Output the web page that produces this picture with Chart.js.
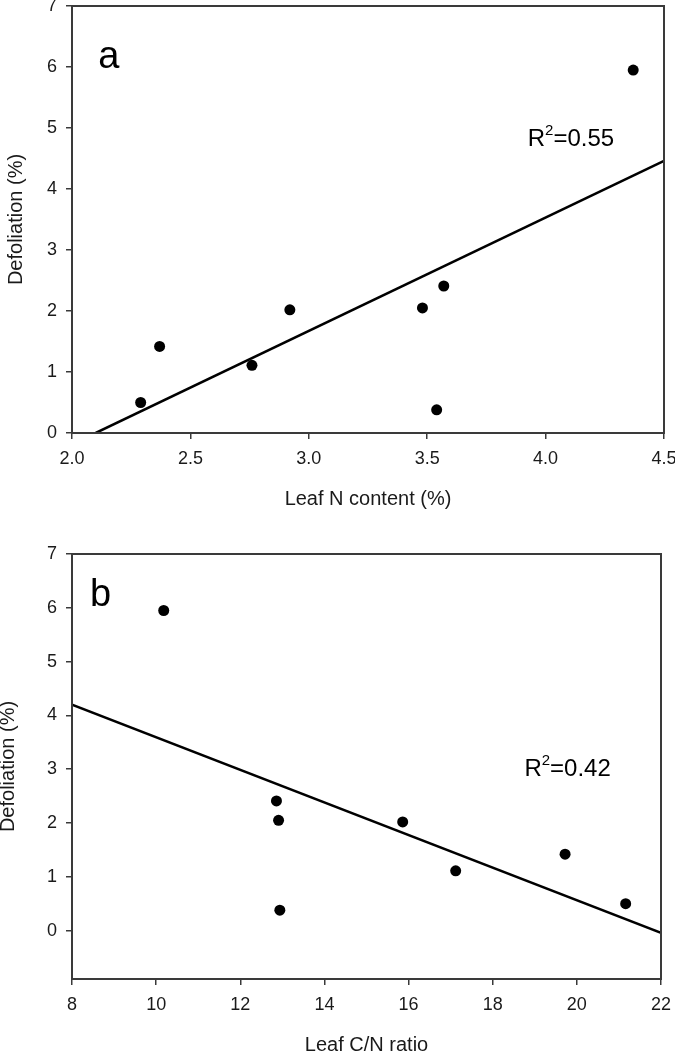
<!DOCTYPE html>
<html>
<head>
<meta charset="utf-8">
<script src="https://cdn.jsdelivr.net/npm/chart.js@4.4.1/dist/chart.umd.min.js"></script>
<style>
    html, body { margin: 0; padding: 0; background: #fff; overflow: hidden; width: 675px; height: 1054px; }
    .panel { position: absolute; left: 0; }
    #pa { top: -20px; }
    #pb { top: 527px; }
</style>
</head>
<body>
<div class="panel" id="pa"><canvas id="chartA" width="700" height="547"></canvas></div>
<div class="panel" id="pb"><canvas id="chartB" width="700" height="527"></canvas></div>
<script>
// values
const leafN = [2.29, 2.37, 2.76, 2.92, 3.48, 3.57, 3.54, 4.37];
const leafCN = [21.16, 19.72, 17.12, 15.86, 12.91, 12.86, 12.94, 10.18];
const defoliation = [0.50, 1.42, 1.11, 2.02, 2.05, 2.41, 0.38, 5.95];

const fitAx = [2.1, 4.5];
const fitAy = [0, 4.46];
const fitBx = [8, 22];
const fitBy = [4.2, -0.04];

const yTicks = [0, 1, 2, 3, 4, 5, 6, 7];
const xTicksA = [2.0, 2.5, 3.0, 3.5, 4.0, 4.5];
const xTicksB = [8, 10, 12, 14, 16, 18, 20, 22];

Chart.defaults.font.family = '"Liberation Sans", Arial, sans-serif';
Chart.defaults.color = '#1a1a1a';

const FONT = '"Liberation Sans", Arial, sans-serif';
const axisColor = '#3a3a3a';

const framePlugin = {
    id: 'frame',
    afterDraw(chart, args, opts) {
        const { ctx, chartArea: a, scales: { x, y } } = chart;
        ctx.save();
        ctx.strokeStyle = axisColor;
        ctx.lineWidth = 2;
        ctx.strokeRect(a.left, a.top, a.right - a.left, a.bottom - a.top);

        ctx.fillStyle = '#000';
        ctx.textBaseline = 'middle';
        ctx.textAlign = 'center';
        ctx.font = '38px ' + FONT;
        ctx.fillText(opts.letter, x.getPixelForValue(opts.letterAt[0]), y.getPixelForValue(opts.letterAt[1]));

        // R² label with a raised 2
        const big = '24px ' + FONT, small = '15px ' + FONT;
        ctx.textAlign = 'left';
        ctx.font = big;
        const wR = ctx.measureText('R').width;
        const wRest = ctx.measureText(opts.r2).width;
        ctx.font = small;
        const w2 = ctx.measureText('2').width;
        const total = wR + w2 + wRest;
        let px = x.getPixelForValue(opts.r2At[0]) - total / 2;
        const py = y.getPixelForValue(opts.r2At[1]);
        ctx.font = big;
        ctx.fillText('R', px, py);
        px += wR;
        ctx.font = small;
        ctx.fillText('2', px, py - 9);
        px += w2;
        ctx.font = big;
        ctx.fillText(opts.r2, px, py);
        ctx.restore();
    }
};

function makeChart(id, cfg) {
    const ctx = document.getElementById(id);
    const points = cfg.xs.map((v, i) => ({ x: v, y: defoliation[i] }));
    const fit = cfg.fitX.map((v, i) => ({ x: v, y: cfg.fitY[i] }));
    return new Chart(ctx, {
        type: 'scatter',
        data: {
            datasets: [
                {
                    data: points,
                    backgroundColor: '#000', borderColor: '#000',
                    pointRadius: 5.5, pointHoverRadius: 5.5, borderWidth: 0
                },
                {
                    type: 'line', data: fit, showLine: true,
                    borderColor: '#000', borderWidth: 2.5, pointRadius: 0, fill: false
                }
            ]
        },
        options: {
            responsive: false,
            animation: false,
            layout: { padding: cfg.pad },
            plugins: {
                legend: { display: false },
                tooltip: { enabled: false },
                frame: { letter: cfg.letter, letterAt: cfg.letterAt, r2: cfg.r2, r2At: cfg.r2At }
            },
            scales: {
                x: {
                    type: 'linear', min: cfg.xMin, max: cfg.xMax,
                    afterBuildTicks: s => { s.ticks = cfg.xTicks.map(v => ({ value: v })); },
                    afterFit: s => { s.height = cfg.xAxisH; },
                    border: { display: false },
                    grid: { drawOnChartArea: false, drawTicks: true, tickLength: 6, color: axisColor, lineWidth: 1.5 },
                    ticks: {
                        autoSkip: false, maxRotation: 0, padding: 9,
                        font: { size: 18 },
                        callback: v => cfg.xFmt(v)
                    },
                    title: {
                        display: true, text: cfg.xTitle,
                        font: { size: 20 }, padding: { top: 0, bottom: cfg.xTitlePad }
                    }
                },
                y: {
                    type: 'linear', min: cfg.yMin, max: 7,
                    afterBuildTicks: s => { s.ticks = yTicks.map(v => ({ value: v })); },
                    afterFit: s => { s.width = 72; },
                    border: { display: false },
                    grid: { drawOnChartArea: false, drawTicks: true, tickLength: 6, color: axisColor, lineWidth: 1.5 },
                    ticks: { padding: 9, font: { size: 18 } },
                    title: {
                        display: true, text: 'Defoliation (%)',
                        font: { size: 20 }, padding: { top: cfg.yTitlePad, bottom: 0 }
                    }
                }
            }
        },
        plugins: [framePlugin]
    });
}

makeChart('chartA', {
    xs: leafN, fitX: fitAx, fitY: fitAy,
    xMin: 2.0, xMax: 4.5, yMin: 0, xTicks: xTicksA, xFmt: v => v.toFixed(1),
    xTitle: 'Leaf N content (%)', xTitlePad: 16, yTitlePad: 4,
    pad: { top: 26, right: 36, left: 0, bottom: 0 }, xAxisH: 94,
    letter: 'a', letterAt: [2.156, 6.16], r2: '=0.55', r2At: [4.107, 4.81]
});

makeChart('chartB', {
    xs: leafCN, fitX: fitBx, fitY: fitBy,
    xMin: 8, xMax: 22, yMin: -0.9, xTicks: xTicksB, xFmt: v => String(v),
    xTitle: 'Leaf C/N ratio', xTitlePad: -3, yTitlePad: -3.5,
    pad: { top: 27, right: 39, left: 0, bottom: 0 }, xAxisH: 75,
    letter: 'b', letterAt: [8.68, 6.23], r2: '=0.42', r2At: [19.78, 2.99]
});
</script>
</body>
</html>
